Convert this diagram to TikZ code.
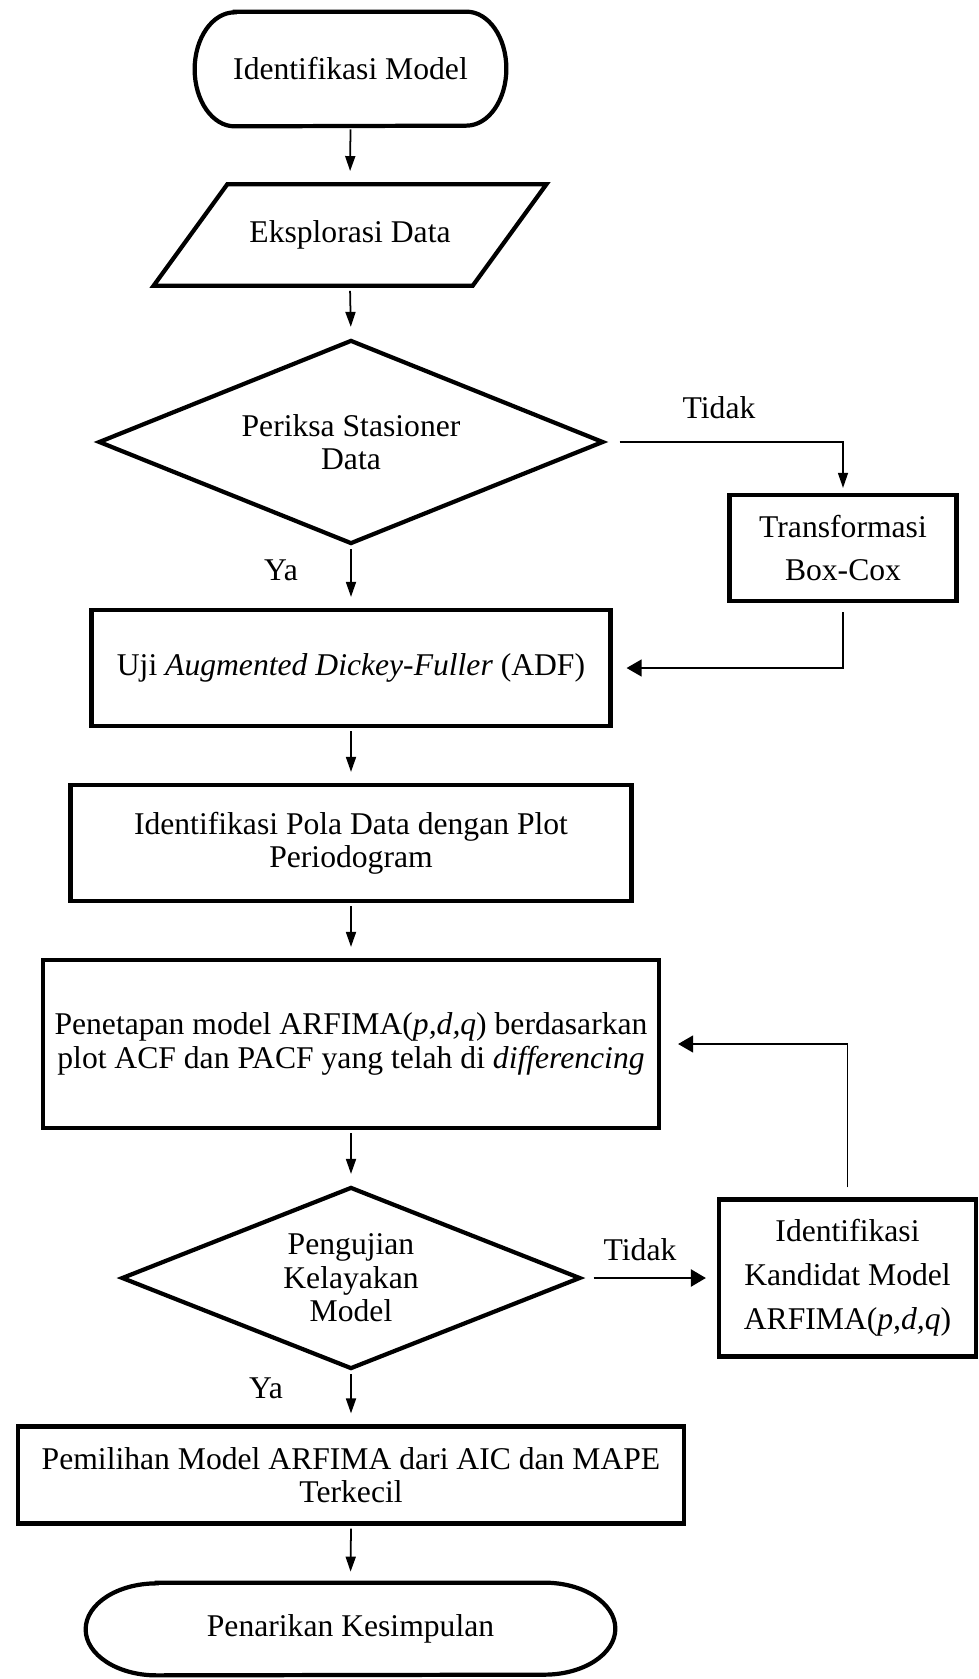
\documentclass[tikz,border=0pt]{standalone}
\usepackage{fontspec}
\setmainfont{Liberation Serif}
\usetikzlibrary{shapes.geometric,arrows.meta}

\tikzset{
	garis/.style={line width=2.4pt},
	proses/.style={draw, rectangle, garis, align=center, inner sep=0pt},
	terminal/.style={rectangle, align=center, inner sep=0pt},
	inputdata/.style={draw, trapezium, trapezium left angle=54, trapezium right angle=126, trapezium stretches body=true, garis, align=center, inner xsep=0pt, inner ysep=0.73cm},
	keputusan/.style={draw, diamond, garis, align=center, inner sep=0pt},
	lebar/.style={font=\fontsize{18}{25}\selectfont},
	panah/.style={-{Triangle[length=3mm,width=2mm]}, line width=1pt, shorten <=0.6mm, shorten >=2.2mm},
	panahbalik/.style={-{Triangle[length=3mm,width=3.4mm]}, line width=0.8pt}
}

\begin{document}
\begin{tikzpicture}[scale=1.0, font=\fontsize{18}{19}\selectfont]
	\useasboundingbox (0,0) rectangle (19.58,-33.58);
	\node[terminal, minimum width=6.22cm, minimum height=2.28cm] (mulai) at (7.01,-1.38) {Identifikasi Model};
	\node[inputdata, minimum width=7.86cm] (eksplorasi) at (7.0,-4.7) {Eksplorasi Data};
	\node[keputusan, aspect=2.48, minimum width=10.1cm, minimum height=4.08cm] (periksa) at (7.02,-8.84) {Periksa Stasioner\\Data};
	\node[proses, lebar, minimum width=4.54cm, minimum height=2.12cm] (boxcox) at (16.86,-10.96) {Transformasi\\Box-Cox};
	\node[proses, minimum width=10.38cm, minimum height=2.32cm] (adf) at (7.02,-13.36) {Uji \textit{Augmented Dickey-Fuller} (ADF)};
	\node[proses, minimum width=11.22cm, minimum height=2.32cm] (pola) at (7.02,-16.86) {Identifikasi Pola Data dengan Plot\\Periodogram};
	\node[proses, minimum width=12.32cm, minimum height=3.36cm] (penetapan) at (7.02,-20.88) {Penetapan model ARFIMA(\textit{p,d,q}) berdasarkan\\plot ACF dan PACF yang telah di \textit{differencing}};
	\node[keputusan, aspect=2.52, minimum width=9.18cm, minimum height=3.64cm] (uji) at (7.02,-25.56) {Pengujian\\Kelayakan\\Model};
	\node[proses, lebar, minimum width=5.14cm, minimum height=3.14cm] (kandidat) at (16.95,-25.56) {Identifikasi\\Kandidat Model\\ARFIMA(\textit{p,d,q})};
	\node[proses, minimum width=13.32cm, minimum height=1.94cm] (pemilihan) at (7.02,-29.5) {Pemilihan Model ARFIMA dari AIC dan MAPE\\Terkecil};
	\node[terminal, minimum width=10.58cm, minimum height=1.84cm] (selesai) at (7.01,-32.58) {Penarikan Kesimpulan};
	\node (tidaka) at (14.38,-8.16) {Tidak};
	\node (yaa) at (5.62,-11.4) {Ya};
	\node (tidakb) at (12.8,-25.0) {Tidak};
	\node (yab) at (5.32,-27.76) {Ya};
	% ujung bulat terminal
	\draw[garis] ([xshift=0.8cm]mulai.north west) -- ([xshift=-0.8cm]mulai.north east)
		arc[start angle=90, end angle=-90, x radius=0.8cm, y radius=1.14cm]
		-- ([xshift=0.8cm]mulai.south west)
		arc[start angle=270, end angle=90, x radius=0.8cm, y radius=1.14cm] -- cycle;
	\draw[garis] ([xshift=1.42cm]selesai.north west) -- ([xshift=-1.42cm]selesai.north east)
		arc[start angle=90, end angle=-90, x radius=1.42cm, y radius=0.92cm]
		-- ([xshift=1.42cm]selesai.south west)
		arc[start angle=270, end angle=90, x radius=1.42cm, y radius=0.92cm] -- cycle;
	% alur utama
	\draw[panah] (mulai.south) -- (eksplorasi.north);
	\draw[panah] (eksplorasi.south) -- (periksa.north);
	\draw[panah] (periksa.south) -- (adf.north);
	\draw[panah] (adf.south) -- (pola.north);
	\draw[panah] (pola.south) -- (penetapan.north);
	\draw[panah] (penetapan.south) -- (uji.north);
	\draw[panah] (uji.south) -- (pemilihan.north);
	\draw[panah] (pemilihan.south) -- (selesai.north);
	% cabang tidak
	\draw[panah, line width=0.8pt, shorten <=2.8mm, shorten >=1mm] (periksa.east) -| (boxcox.north);
	\draw[panahbalik, shorten <=1.8mm, shorten >=2.8mm] (boxcox.south) |- (adf.east);
	\draw[panahbalik, line width=1.4pt, shorten <=2.2mm, shorten >=2.2mm] (uji.east) -- (kandidat.west);
	\draw[panahbalik, shorten <=2mm, shorten >=3.4mm] (kandidat.north) |- (penetapan.east);
\end{tikzpicture}
\end{document}
